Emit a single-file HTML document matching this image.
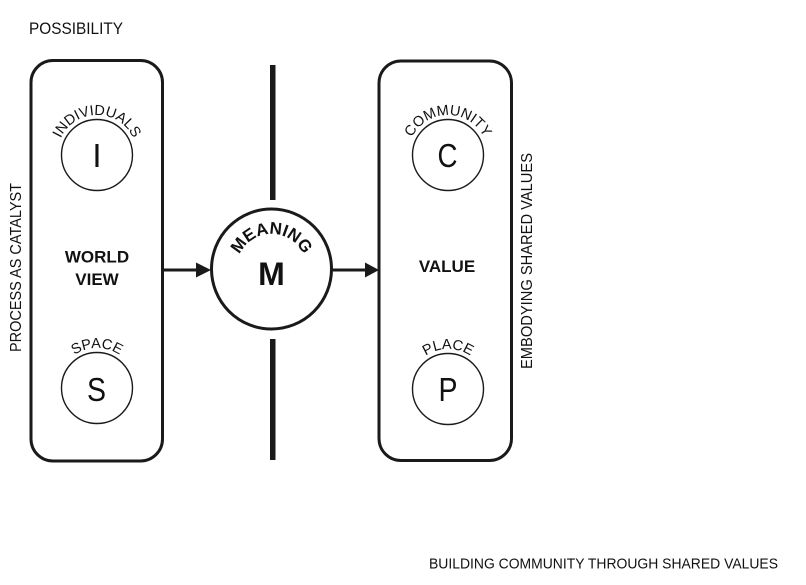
<!DOCTYPE html>
<html>
<head>
<meta charset="utf-8">
<style>
  html, body { margin: 0; padding: 0; background: #ffffff; }
  svg { display: block; }
  text { font-family: "Liberation Sans", "DejaVu Sans", sans-serif; fill: #111; }
</style>
</head>
<body>
<svg width="806" height="585" viewBox="0 0 806 585" xmlns="http://www.w3.org/2000/svg">
  <defs>
    <path id="arcI" d="M 57 155 A 40 40 0 0 1 137 155"/>
    <path id="arcC" d="M 408 155 A 40 40 0 0 1 488 155"/>
    <path id="arcS" d="M 57 388 A 40 40 0 0 1 137 388"/>
    <path id="arcP" d="M 408 389 A 40 40 0 0 1 488 389"/>
    <path id="arcM" d="M 236.5 269 A 35 35 0 0 1 306.5 269"/>
  </defs>

  <!-- Top-left label -->
  <text x="29" y="34" font-size="17" textLength="94" lengthAdjust="spacingAndGlyphs">POSSIBILITY</text>

  <!-- Bottom label -->
  <text x="429" y="568.5" font-size="15" textLength="349" lengthAdjust="spacingAndGlyphs">BUILDING COMMUNITY THROUGH SHARED VALUES</text>

  <!-- Rotated side labels -->
  <text transform="translate(21,352) rotate(-90)" font-size="16" textLength="169" lengthAdjust="spacingAndGlyphs">PROCESS AS CATALYST</text>
  <text transform="translate(532,369) rotate(-90)" font-size="16" textLength="216" lengthAdjust="spacingAndGlyphs">EMBODYING SHARED VALUES</text>

  <!-- Left box -->
  <rect x="31" y="60.5" width="131.5" height="400.5" rx="22" ry="22" fill="none" stroke="#1a1a1a" stroke-width="3"/>
  <!-- Right box -->
  <rect x="379" y="61" width="132.5" height="399.5" rx="22" ry="22" fill="none" stroke="#1a1a1a" stroke-width="3"/>

  <!-- Vertical bars -->
  <rect x="270" y="65" width="5.5" height="135" fill="#1a1a1a"/>
  <rect x="270" y="339" width="5.5" height="121" fill="#1a1a1a"/>

  <!-- Meaning circle -->
  <circle cx="271.5" cy="269" r="60" fill="#fff" stroke="#1a1a1a" stroke-width="3"/>
  <text font-size="17" font-weight="bold"><textPath href="#arcM" startOffset="50%" text-anchor="middle">MEANING</textPath></text>
  <text x="271.5" y="285" font-size="32" font-weight="bold" text-anchor="middle">M</text>

  <!-- Arrows -->
  <line x1="163" y1="270" x2="198" y2="270" stroke="#1a1a1a" stroke-width="3"/>
  <polygon points="196,262.5 211,270 196,277.5" fill="#1a1a1a"/>
  <line x1="331" y1="270" x2="367" y2="270" stroke="#1a1a1a" stroke-width="3"/>
  <polygon points="365,262.5 379,270 365,277.5" fill="#1a1a1a"/>

  <!-- Left box contents -->
  <circle cx="97" cy="155" r="35.5" fill="none" stroke="#1a1a1a" stroke-width="1.4"/>
  <text font-size="14.5"><textPath href="#arcI" startOffset="50%" text-anchor="middle">INDIVIDUALS</textPath></text>
  <text x="97" y="167" font-size="33" text-anchor="middle">I</text>

  <text x="97" y="262.5" font-size="17" font-weight="bold" text-anchor="middle">WORLD</text>
  <text x="97" y="285" font-size="17" font-weight="bold" text-anchor="middle">VIEW</text>

  <circle cx="97" cy="388" r="35.5" fill="none" stroke="#1a1a1a" stroke-width="1.4"/>
  <text font-size="14.5"><textPath href="#arcS" startOffset="50%" text-anchor="middle">SPACE</textPath></text>
  <text x="96.5" y="401" font-size="33" text-anchor="middle" textLength="19" lengthAdjust="spacingAndGlyphs">S</text>

  <!-- Right box contents -->
  <circle cx="448" cy="155" r="35.5" fill="none" stroke="#1a1a1a" stroke-width="1.4"/>
  <text font-size="14.5"><textPath href="#arcC" startOffset="50%" text-anchor="middle">COMMUNITY</textPath></text>
  <text x="447.5" y="167" font-size="33" text-anchor="middle" textLength="20" lengthAdjust="spacingAndGlyphs">C</text>

  <text x="447" y="272" font-size="17" font-weight="bold" text-anchor="middle">VALUE</text>

  <circle cx="448" cy="389" r="35.5" fill="none" stroke="#1a1a1a" stroke-width="1.4"/>
  <text font-size="14.5"><textPath href="#arcP" startOffset="50%" text-anchor="middle">PLACE</textPath></text>
  <text x="448" y="401" font-size="33" text-anchor="middle" textLength="19" lengthAdjust="spacingAndGlyphs">P</text>
</svg>
</body>
</html>
